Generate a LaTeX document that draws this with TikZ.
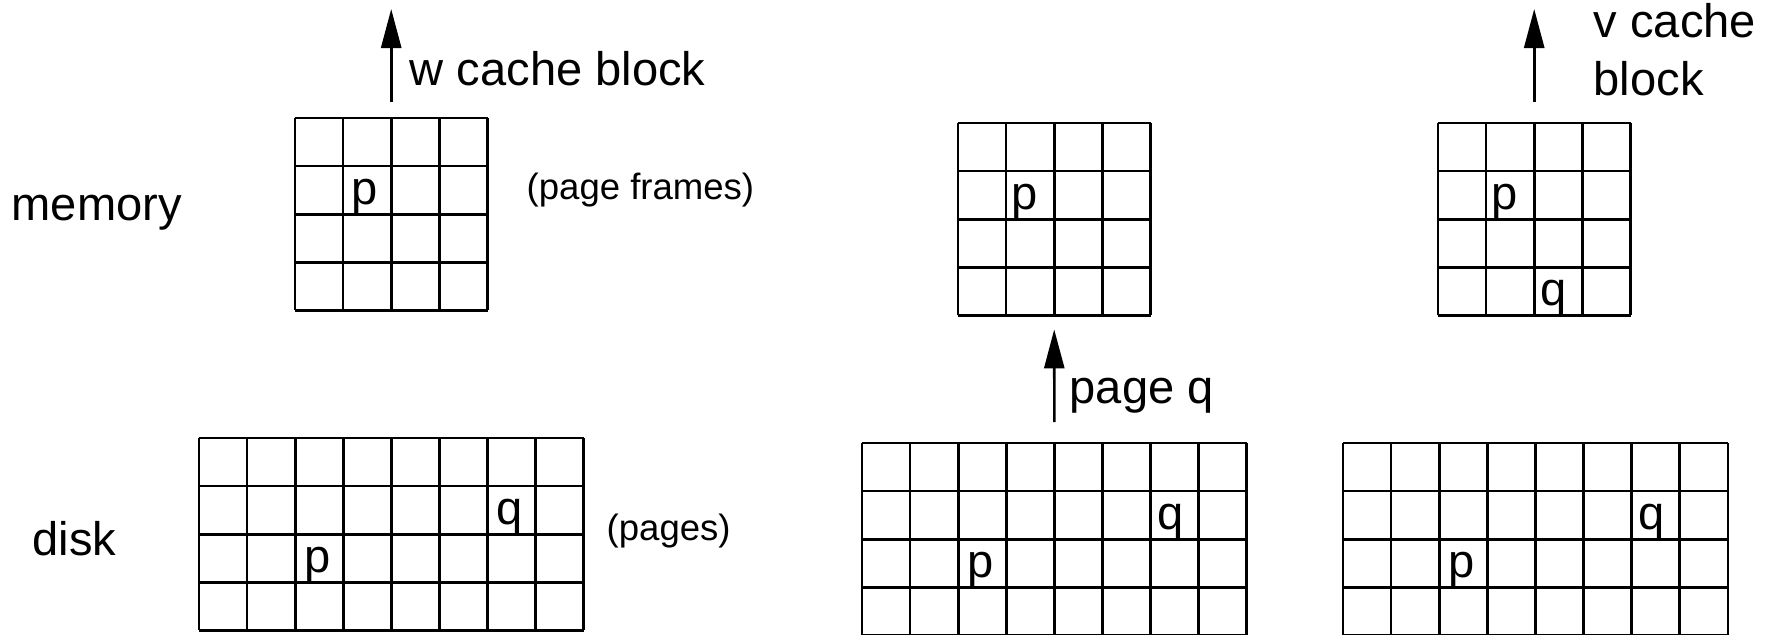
\documentclass[tikz,border=0pt]{standalone}
\usepackage{fontspec}
\setmainfont{Liberation Sans}
\usepackage{tikz}
\usetikzlibrary{positioning,arrows.meta,calc}

\begin{document}
\begin{tikzpicture}[
    gridline/.style={line width=0.75pt},
    lbl/.style ={inner sep=0pt, anchor=base west, font=\fontsize{13.4pt}{16.5pt}\selectfont},
    note/.style={inner sep=0pt, anchor=base west, font=\fontsize{10.4pt}{12.5pt}\selectfont},
    arr/.style ={-{Triangle[length=3.9mm, width=2mm]}, line width=0.75pt}
  ]
    \def\cell{0.481}
    \useasboundingbox (0,0) rectangle (17.75,6.34);
    \clip (0,0) rectangle (17.75,6.34);

    % page grids: name / left / top / columns
    \foreach \g/\x/\y/\nc in {mem1/2.95/5.16/4, mem2/9.58/5.11/4, mem3/14.38/5.11/4,
                              disk1/1.99/1.96/8, disk2/8.62/1.91/8, disk3/13.43/1.91/8} {
      \draw[gridline, shift={(\x,\y-4*\cell)}] (0,0) grid[step=\cell] (\nc*\cell+0.001, 4*\cell+0.001);
      \coordinate (\g-top) at (\x+\nc*\cell/2, \y);
      \coordinate (\g-bot) at (\x+\nc*\cell/2, \y-4*\cell);
    }

    % row labels
    \node[lbl] (memory) at (0.11, 4.14) {memory};
    \node[lbl] (disk)   at (0.32, 0.79) {disk};
    \node[note] (frames) at (5.26, 4.35) {(page frames)};
    \node[note] (pages)  at (6.06, 0.94) {(pages)};

    % pages inside the grids
    \node[lbl] (m1p) at (3.51, 4.30) {p};
    \node[lbl] (d1q) at (4.96, 1.10) {q};
    \node[lbl] (d1p) at (3.04, 0.62) {p};
    \node[lbl] (m2p) at (10.11, 4.25) {p};
    \node[lbl] (d2q) at (11.57, 1.05) {q};
    \node[lbl] (d2p) at (9.67, 0.57) {p};
    \node[lbl] (m3p) at (14.91, 4.25) {p};
    \node[lbl] (m3q) at (15.40, 3.29) {q};
    \node[lbl] (d3q) at (16.38, 1.05) {q};
    \node[lbl] (d3p) at (14.48, 0.57) {p};

    % transfers
    \coordinate (w0) at ($(mem1-top)+(0,0.16)$);
    \coordinate (w1) at ($(mem1-top)+(0,1.09)$);
    \coordinate (q0) at ($(disk2-top)+(0,0.21)$);
    \coordinate (q1) at ($(mem2-bot)+(0,-0.14)$);
    \coordinate (v0) at ($(mem3-top)+(0,0.21)$);
    \coordinate (v1) at ($(mem3-top)+(0,1.14)$);
    \draw[arr] (w0) -- (w1);
    \draw[arr] (q0) -- (q1);
    \draw[arr] (v0) -- (v1);

    \node[lbl] (wblock) at (4.09, 5.49) {w cache block};
    \node[lbl] (pageq)  at (10.69, 2.31) {page q};
    \node[lbl, align=left] (vblock) at (15.93, 5.39) {v cache\\block};
\end{tikzpicture}
\end{document}
